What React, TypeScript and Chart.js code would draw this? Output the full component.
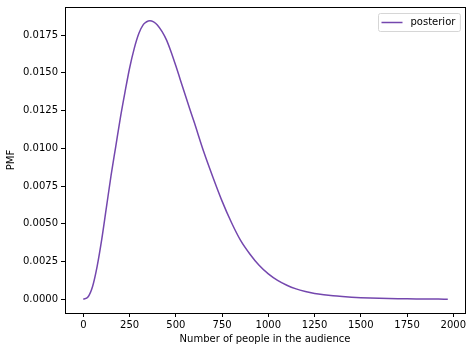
import React, { useEffect, useRef } from "react";
import { Chart, registerables } from "chart.js";

Chart.register(...registerables);

const xValues = [
  0, 25, 50, 75, 100, 125, 150, 175, 200, 225, 250, 275, 300, 325, 340, 360,
  380, 400, 425, 450, 475, 500, 525, 550, 575, 600, 650, 700, 750, 800, 850,
  900, 950, 1000, 1050, 1100, 1150, 1200, 1250, 1300, 1350, 1400, 1450, 1500,
  1550, 1600, 1650, 1700, 1750, 1800, 1850, 1900, 1950, 1970,
];
const posterior = [
  0, 0.00015, 0.00085, 0.0022, 0.004, 0.0061, 0.0082, 0.0101, 0.012, 0.0137,
  0.0153, 0.0166, 0.0176, 0.0182, 0.01836, 0.01845, 0.01837, 0.01817, 0.01774,
  0.01716, 0.01636, 0.01546, 0.01451, 0.01356, 0.01262, 0.0117, 0.0098, 0.0081,
  0.0065, 0.0051, 0.0039, 0.003, 0.00225, 0.00168, 0.00125, 0.00093, 0.00069,
  0.00052, 0.00039, 0.0003, 0.00023, 0.00018, 0.00014, 0.00011, 0.000085,
  0.000065, 0.00005, 0.000038, 0.000029, 0.000022, 0.000017, 0.000013,
  0.00001, 0.000009,
];
const xTicks = [0, 250, 500, 750, 1000, 1250, 1500, 1750, 2000];
const yTicks = [0, 0.0025, 0.005, 0.0075, 0.01, 0.0125, 0.015, 0.0175];
const seriesLabel = "posterior";
const xTitle = "Number of people in the audience";
const yTitle = "PMF";

const FONT = "'DejaVu Sans', sans-serif";
const LINE_COLOR = "#7447ae";

const framePlugin = {
  id: "frame",
  afterDraw(chart: any) {
    const { ctx, chartArea: a } = chart;
    ctx.save();
    ctx.strokeStyle = "#000";
    ctx.lineWidth = 1;
    const l = Math.round(a.left) + 0.5;
    const t = Math.round(a.top) + 0.5;
    const r = Math.round(a.right) + 0.5;
    const b = Math.round(a.bottom) + 0.5;
    ctx.strokeRect(l, t, r - l, b - t);

    // legend
    const label = chart.data.datasets[0].label as string;
    ctx.font = `10px ${FONT}`;
    const tw = ctx.measureText(label).width;
    const boxW = 4 + 20 + 8 + tw + 5;
    const boxH = 18;
    const bx = Math.round(a.right - 5 - boxW) + 0.5;
    const by = Math.round(a.top + 6) + 0.5;
    const rad = 2;
    ctx.beginPath();
    ctx.moveTo(bx + rad, by);
    ctx.lineTo(bx + boxW - rad, by);
    ctx.arcTo(bx + boxW, by, bx + boxW, by + rad, rad);
    ctx.lineTo(bx + boxW, by + boxH - rad);
    ctx.arcTo(bx + boxW, by + boxH, bx + boxW - rad, by + boxH, rad);
    ctx.lineTo(bx + rad, by + boxH);
    ctx.arcTo(bx, by + boxH, bx, by + boxH - rad, rad);
    ctx.lineTo(bx, by + rad);
    ctx.arcTo(bx, by, bx + rad, by, rad);
    ctx.closePath();
    ctx.fillStyle = "rgba(255,255,255,0.8)";
    ctx.fill();
    ctx.strokeStyle = "#d6d6d6";
    ctx.stroke();

    const cy = by + boxH / 2;
    ctx.strokeStyle = LINE_COLOR;
    ctx.lineWidth = 1.5;
    ctx.beginPath();
    ctx.moveTo(bx + 3, cy);
    ctx.lineTo(bx + 24, cy);
    ctx.stroke();
    ctx.fillStyle = "#000";
    ctx.textBaseline = "middle";
    ctx.textAlign = "left";
    ctx.fillText(label, bx + 32, cy);
    ctx.restore();
  },
};

export default function App() {
  const ref = useRef<HTMLCanvasElement | null>(null);
  useEffect(() => {
    if (!ref.current) return;
    const chart = new Chart(ref.current, {
      type: "line",
      data: {
        datasets: [
          {
            label: seriesLabel,
            data: xValues.map((x, i) => ({ x, y: posterior[i] })),
            borderColor: LINE_COLOR,
            borderWidth: 1.5,
            pointRadius: 0,
            fill: false,
            cubicInterpolationMode: "monotone",
          },
        ],
      },
      options: {
        animation: false,
        responsive: false,
        maintainAspectRatio: false,
        layout: { padding: { left: 0, top: 7, right: 7, bottom: 0 } },
        plugins: {
          legend: { display: false },
          tooltip: { enabled: false },
        },
        scales: {
          x: {
            type: "linear",
            min: -99,
            max: 2063,
            afterBuildTicks: (s: any) => {
              s.ticks = xTicks.map((v) => ({ value: v }));
            },
            afterFit: (s: any) => {
              s.height = 39;
              s.paddingLeft = 0;
              s.paddingRight = 0;
            },
            border: { display: false },
            grid: {
              drawOnChartArea: false,
              drawTicks: true,
              tickLength: 4,
              color: "#000",
            },
            ticks: {
              color: "#000",
              font: { family: FONT, size: 10 },
              padding: 2,
              maxRotation: 0,
              autoSkip: false,
              callback: (v: any) => String(v),
            },
            title: {
              display: true,
              text: xTitle,
              color: "#000",
              font: { family: FONT, size: 10 },
              padding: { top: 0, bottom: 7 },
            },
          },
          y: {
            type: "linear",
            min: -0.000907,
            max: 0.019354,
            afterBuildTicks: (s: any) => {
              s.ticks = yTicks.map((v) => ({ value: v }));
            },
            afterFit: (s: any) => {
              s.width = 65;
              s.paddingTop = 0;
              s.paddingBottom = 0;
            },
            border: { display: false },
            grid: {
              drawOnChartArea: false,
              drawTicks: true,
              tickLength: 4,
              color: "#000",
            },
            ticks: {
              color: "#000",
              font: { family: FONT, size: 10 },
              padding: 3,
              autoSkip: false,
              callback: (v: any) => Number(v).toFixed(4),
            },
            title: {
              display: true,
              text: yTitle,
              color: "#000",
              font: { family: FONT, size: 10 },
              padding: { top: 5, bottom: 0 },
            },
          },
        },
      },
      plugins: [framePlugin],
    });
    return () => chart.destroy();
  }, []);
  return (
    <div style={{ position: "fixed", left: 0, top: 0, width: 472, height: 352, background: "#fff" }}>
      <canvas ref={ref} width={472} height={352} style={{ width: 472, height: 352 }} />
    </div>
  );
}
